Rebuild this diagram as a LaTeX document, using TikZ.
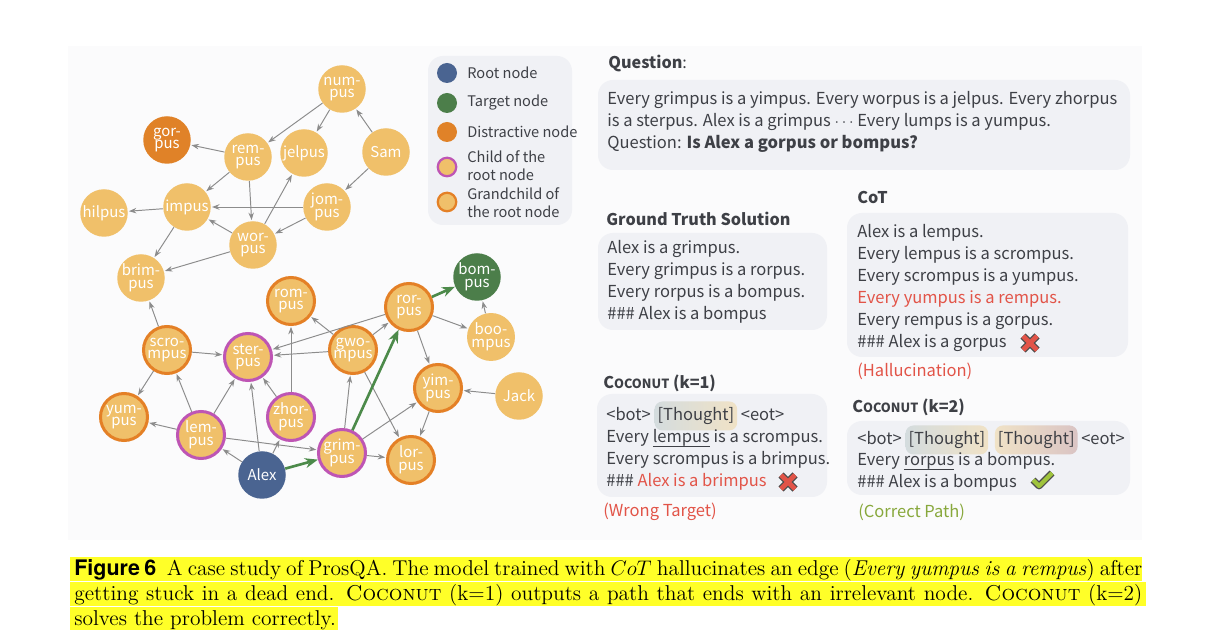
\documentclass[tikz,border=0pt]{standalone}
\usepackage{fontspec}
\newfontfamily\figfont{Noto Sans CJK KR}
\newfontfamily\capfont{TeX Gyre Heros}
\usepackage{tikz}
\usetikzlibrary{arrows.meta, positioning}

\definecolor{NodeFill}{RGB}{240,192,106}
\definecolor{NodeEdge}{RGB}{228,128,38}
\definecolor{RootBlue}{RGB}{74,100,145}
\definecolor{TargetGreen}{RGB}{76,126,74}
\definecolor{DistOrange}{RGB}{224,130,40}
\definecolor{ChildPink}{RGB}{190,85,180}
\definecolor{EdgeGray}{RGB}{140,140,140}
\definecolor{PathGreen}{RGB}{76,138,74}
\definecolor{BoxGray}{RGB}{240,241,245}
\definecolor{PanelGray}{RGB}{251,251,252}
\definecolor{TextGray}{RGB}{62,64,70}
\definecolor{WrongRed}{RGB}{226,84,72}
\definecolor{RightGreen}{RGB}{136,168,60}
\definecolor{TickGreen}{RGB}{160,196,60}
\definecolor{HiYellow}{RGB}{255,255,40}
\definecolor{ThoughtA}{RGB}{212,220,222}
\definecolor{ThoughtB}{RGB}{240,226,198}
\definecolor{ThoughtC}{RGB}{218,196,196}

\tikzset{
  gnode/.style={circle, minimum size=9.5mm, inner sep=0pt, align=center, text=white,
    font=\figfont\fontsize{8.5}{7.2}\selectfont},
  plainnode/.style={gnode, fill=NodeFill},
  grandnode/.style={gnode, fill=NodeFill, draw=NodeEdge, line width=0.6mm, minimum size=9.4mm},
  childnode/.style={gnode, fill=NodeFill, draw=ChildPink, line width=0.6mm, minimum size=9.4mm},
  rootnode/.style={gnode, fill=RootBlue},
  targetnode/.style={gnode, fill=TargetGreen},
  distnode/.style={gnode, fill=DistOrange},
  relarrow/.style={draw=EdgeGray, line width=0.55pt, -{Stealth[length=1.5mm,width=1.1mm]}, shorten >=0.5pt},
  solpath/.style={draw=PathGreen, line width=1.5pt, -{Stealth[length=2.6mm,width=2mm]}},
  legtext/.style={anchor=west, inner sep=0pt, align=left, text=TextGray,
    font=\figfont\fontsize{8.3}{10.2}\selectfont},
  boxtext/.style={inner sep=0pt, align=left, text=TextGray,
    font=\figfont\fontsize{9.4}{12.5}\selectfont},
  boxtitle/.style={anchor=west, inner sep=0pt, text=TextGray,
    font=\figfont\bfseries\fontsize{9.2}{12.5}\selectfont},
  thought/.style={boxtext, inner xsep=0.6mm, minimum height=5.8mm, rounded corners=1.6mm},
  panel/.style={fill=BoxGray, rounded corners=3mm}
}

\newcommand{\failcross}[1]{%
  \draw[line width=1.45mm, black!70, shift={(#1)}] (-7,-7) -- (7,7) (-7,7) -- (7,-7);
  \draw[line width=0.95mm, WrongRed, shift={(#1)}] (-7,-7) -- (7,7) (-7,7) -- (7,-7);}
\newcommand{\passtick}[1]{%
  \draw[line width=1.35mm, black!70, line join=round, shift={(#1)}] (-9,0) -- (-3,6) -- (10,-7);
  \draw[line width=0.85mm, TickGreen, line join=round, shift={(#1)}] (-9,0) -- (-3,6) -- (10,-7);}
\newcommand{\coconut}{{\fontsize{9.2}{12.5}\selectfont C}{\fontsize{7.2}{12.5}\selectfont OCONUT}}
\newcommand{\ulword}[1]{\leavevmode\setbox0\hbox{#1}\rlap{\rule[-2.5pt]{\wd0}{0.45pt}}\box0\relax}

\begin{document}
\begin{tikzpicture}[x=0.2mm, y=-0.2mm]
  \useasboundingbox (0,0) rectangle (1209,642);
  \fill[PanelGray] (68,46) rectangle (1142,540);

  % graph nodes
  \node[plainnode] (numpus) at (342,89) {num-\\pus};
  \node[distnode] (gorpus) at (167,140) {gor-\\pus};
  \node[plainnode] (rempus) at (248,157) {rem-\\pus};
  \node[plainnode] (jelpus) at (304,153) {jelpus};
  \node[plainnode] (sam) at (386,152) {Sam};
  \node[plainnode] (impus) at (187,207) {impus};
  \node[plainnode] (jompus) at (327,207) {jom-\\pus};
  \node[plainnode] (hilpus) at (104,213) {hilpus};
  \node[plainnode] (worpus) at (253,245) {wor-\\pus};
  \node[plainnode] (brimpus) at (141,278) {brim-\\pus};
  \node[targetnode] (bompus) at (477,277) {bom-\\pus};
  \node[grandnode] (rompus) at (291,301) {rom-\\pus};
  \node[grandnode] (rorpus) at (409,307) {ror-\\pus};
  \node[plainnode] (boompus) at (491,337) {boo-\\mpus};
  \node[grandnode] (scrompus) at (167,350) {scro-\\mpus};
  \node[childnode] (sterpus) at (248,357) {ster-\\pus};
  \node[grandnode] (gwompus) at (353,350) {gwo-\\mpus};
  \node[grandnode] (yimpus) at (438,388) {yim-\\pus};
  \node[plainnode] (jack) at (519,396) {Jack};
  \node[grandnode] (yumpus) at (124,417) {yum-\\pus};
  \node[childnode] (zhorpus) at (291,417) {zhor-\\pus};
  \node[childnode] (lempus) at (201,435) {lem-\\pus};
  \node[childnode] (grimpus) at (342,453) {grim-\\pus};
  \node[grandnode] (lorpus) at (411,460) {lor-\\pus};
  \node[rootnode] (alex) at (262,475) {Alex};

  % edges
  \foreach \a/\b in {numpus/rempus, numpus/jelpus, sam/numpus, sam/jompus,
      rempus/gorpus, rempus/impus, rempus/worpus, jompus/impus, jompus/worpus,
      worpus/jelpus, worpus/impus, impus/hilpus, impus/brimpus, worpus/brimpus,
      scrompus/brimpus, scrompus/sterpus, scrompus/yumpus, lempus/scrompus,
      lempus/sterpus, lempus/yumpus, lempus/grimpus, alex/lempus, alex/sterpus,
      alex/zhorpus, zhorpus/sterpus, zhorpus/rompus, gwompus/rompus,
      gwompus/sterpus, gwompus/rorpus, rorpus/sterpus, grimpus/gwompus,
      gwompus/lorpus, grimpus/yimpus, grimpus/lorpus, rorpus/boompus,
      boompus/bompus, rorpus/yimpus, jack/yimpus, yimpus/lorpus}
    \draw[relarrow] (\a) -- (\b);
  \foreach \a/\b in {alex/grimpus, grimpus/rorpus, rorpus/bompus}
    \draw[solpath] (\a) -- (\b);

  % legend
  \fill[panel] (428,56) rectangle (572,225);
  \node[rootnode, minimum size=4mm] (lgroot) at (447,73) {};
  \node[targetnode, minimum size=4mm] (lgtarget) at (447,103) {};
  \node[distnode, minimum size=4mm] (lgdist) at (447,132) {};
  \node[childnode, minimum size=3.7mm, line width=0.45mm] (lgchild) at (447,167) {};
  \node[grandnode, minimum size=3.7mm, line width=0.45mm] (lggrand) at (447,202) {};
  \node[legtext] (lgroottxt) at (467,73) {Root node};
  \node[legtext] (lgtargettxt) at (467,103) {Target node};
  \node[legtext] (lgdisttxt) at (467,132) {Distractive node};
  \node[legtext] (lgchildtxt) at (467,166) {Child of the\\root node};
  \node[legtext] (lggrandtxt) at (467,203) {Grandchild of\\the root node};

  % question
  \node[boxtitle] (qtitle) at (608,63) {Question\textmd{:}};
  \fill[panel] (598,80) rectangle (1130,170);
  \node[boxtext, anchor=west] (qtext) at (607,122)
    {Every grimpus is a yimpus. Every worpus is a jelpus. Every zhorpus\\
     is a sterpus. Alex is a grimpus $\cdots$ Every lumps is a yumpus.\\
     Question: \textbf{Is Alex a gorpus or bompus?}};

  % ground truth
  \node[boxtitle] (gttitle) at (606,219) {Ground Truth Solution};
  \fill[panel] (598,233) rectangle (827,330);
  \node[boxtext, anchor=west] (gttext) at (607,282)
    {Alex is a grimpus.\\Every grimpus is a rorpus.\\Every rorpus is a bompus.\\\#\#\# Alex is a bompus};

  % CoT
  \node[boxtitle] (cottitle) at (857,197) {CoT};
  \fill[panel] (847,213) rectangle (1128,357);
  \node[boxtext, anchor=west] (cottext) at (857,288)
    {Alex is a lempus.\\Every lempus is a scrompus.\\Every scrompus is a yumpus.\\
     {\color{WrongRed}Every yumpus is a rempus.}\\Every rempus is a gorpus.\\\#\#\# Alex is a gorpus};
  \failcross{1030,343}
  \node[boxtext, anchor=west, text=WrongRed] (cotnote) at (857,371) {(Hallucination)};

  % Coconut k=1
  \node[boxtitle] (ktitleone) at (603,383) {\coconut\ (k=1)};
  \fill[panel] (597,394) rectangle (827,497);
  \node[boxtext, anchor=west] (botone) at (606,414) {<bot>};
  \node[thought, base right=0.6mm of botone, left color=ThoughtA, right color=ThoughtB] (thoughtone) {[Thought]};
  \node[boxtext, base right=0.6mm of thoughtone] (eotone) {<eot>};
  \node[boxtext, anchor=west] (kone) at (606,460)
    {Every \ulword{lempus} is a scrompus.\\Every scrompus is a brimpus.\\
     \#\#\# {\color{WrongRed}Alex is a brimpus}};
  \failcross{788,482}
  \node[boxtext, anchor=west, text=WrongRed] (konenote) at (603,512) {(Wrong Target)};

  % Coconut k=2
  \node[boxtitle] (ktitletwo) at (852,407) {\coconut\ (k=2)};
  \fill[panel] (847,421) rectangle (1130,495);
  \node[boxtext, anchor=west] (bottwo) at (857,438) {<bot>};
  \node[thought, base right=0.6mm of bottwo, left color=ThoughtA, right color=ThoughtB] (thoughttwo) {[Thought]};
  \node[thought, base right=1.2mm of thoughttwo, left color=ThoughtB, right color=ThoughtC] (thoughtthree) {[Thought]};
  \node[boxtext, base right=0.6mm of thoughtthree] (eottwo) {<eot>};
  \node[boxtext, anchor=west] (ktwo) at (857,472)
    {Every \ulword{rorpus} is a bompus.\\\#\#\# Alex is a bompus};
  \passtick{1042,480}
  \node[boxtext, anchor=west, text=RightGreen] (ktwonote) at (858,512) {(Correct Path)};

  % caption
  \fill[HiYellow] (70,557) rectangle (1142,581);
  \fill[HiYellow] (70,582) rectangle (1146,606);
  \fill[HiYellow] (70,607) rectangle (338,630);
  \node[anchor=north west, inner sep=0pt, text width=213.6mm, align=justify,
        font=\fontsize{12.2}{14.2}\selectfont] (caption) at (74,559)
    {{\capfont\bfseries Figure 6}\enspace A case study of ProsQA. The model trained with $CoT$ hallucinates an edge (\textit{Every yumpus is a rempus}) after\linebreak
     getting stuck in a dead end. \textsc{Coconut} (k=1) outputs a path that ends with an irrelevant node. \textsc{Coconut} (k=2)\linebreak
     solves the problem correctly.};
\end{tikzpicture}
\end{document}
